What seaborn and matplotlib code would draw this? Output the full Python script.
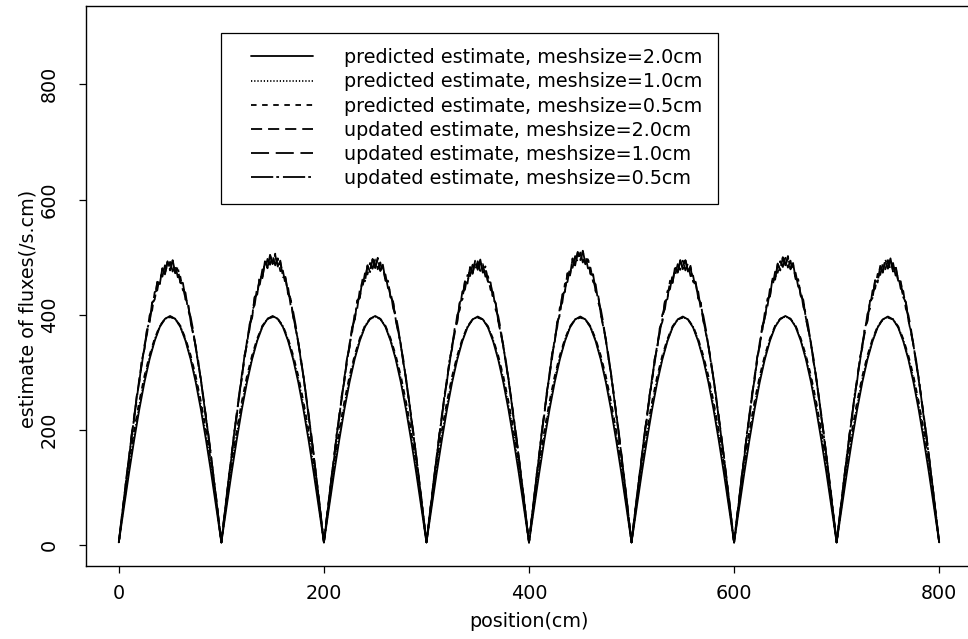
import numpy as np
import pandas as pd
import seaborn as sns
import matplotlib.pyplot as plt
from matplotlib.legend_handler import HandlerLine2D

# arch start positions (cm); each arch is 100 cm wide
arch_starts = [0, 100, 200, 300, 400, 500, 600, 700]

# predicted estimates, read at 5 cm steps across one arch
pred_offsets = [0, 5, 10, 15, 20, 25, 30, 35, 40, 45, 50,
                55, 60, 65, 70, 75, 80, 85, 90, 95, 100]
pred_20 = [5, 66, 126, 183, 236, 283, 323, 355, 379, 393, 398,
           393, 379, 355, 323, 283, 236, 183, 126, 66, 5]
pred_10 = [5, 72, 135, 192, 243, 289, 326, 357, 380, 393, 397,
           393, 380, 357, 326, 289, 243, 192, 135, 72, 5]
pred_05 = [5, 78, 143, 200, 250, 294, 330, 359, 381, 393, 396,
           393, 381, 359, 330, 294, 250, 200, 143, 78, 5]

# updated estimates, read at 2.5 cm steps across one arch (noisy near the top)
upd_offsets = [0, 2.5, 5, 7.5, 10, 12.5, 15, 17.5, 20, 22.5, 25, 27.5, 30, 32.5,
               35, 37.5, 40, 42.5, 45, 47.5, 50, 52.5, 55, 57.5, 60, 62.5, 65,
               67.5, 70, 72.5, 75, 77.5, 80, 82.5, 85, 87.5, 90, 92.5, 95, 97.5, 100]
upd_20 = [5, 44, 80, 120, 153, 193, 223, 261, 287, 324, 345, 378, 390, 425,
          431, 461, 459, 486, 476, 497, 482, 498, 477, 485, 460, 458, 431, 423,
          392, 370, 350, 316, 292, 255, 227, 188, 157, 116, 83, 41, 5]
upd_10 = [5, 42, 83, 116, 157, 189, 228, 255, 293, 317, 351, 370, 403, 412,
          444, 447, 473, 471, 491, 481, 497, 480, 492, 470, 471, 447, 443, 412,
          401, 377, 346, 323, 288, 260, 222, 194, 153, 120, 79, 44, 5]
upd_05 = [5, 45, 79, 121, 152, 194, 222, 262, 286, 325, 344, 379, 392, 426,
          430, 462, 458, 487, 475, 498, 484, 500, 478, 488, 461, 460, 432, 424,
          393, 372, 348, 318, 291, 257, 224, 190, 155, 117, 82, 42, 5]

# peak heights of each arch
pred_peaks = [398, 398, 398, 397, 397, 397, 398, 397]
upd_peaks = [485, 496, 489, 486, 501, 487, 492, 488]

labels = ["predicted estimate, meshsize=2.0cm",
          "predicted estimate, meshsize=1.0cm",
          "predicted estimate, meshsize=0.5cm",
          "updated estimate, meshsize=2.0cm",
          "updated estimate, meshsize=1.0cm",
          "updated estimate, meshsize=0.5cm"]


def build(offsets, profile, peaks, ref):
    xs, ys = [], []
    for s, pk in zip(arch_starts, peaks):
        xs += [s + o for o in offsets]
        ys += [v * pk / ref for v in profile]
    return pd.DataFrame({"position": xs, "flux": ys})


series = [build(pred_offsets, pred_20, pred_peaks, 398),
          build(pred_offsets, pred_10, pred_peaks, 398),
          build(pred_offsets, pred_05, pred_peaks, 398),
          build(upd_offsets, upd_20, upd_peaks, 490),
          build(upd_offsets, upd_10, upd_peaks, 490),
          build(upd_offsets, upd_05, upd_peaks, 490)]

styles = ["-", (0, (0.9, 1.4)), (0, (4, 4)),
          (0, (8, 4.3)), (0, (13, 4.8)), (0, (16, 2.2, 2, 2.8))]


# legend sample lines start a bit in from the box edge (like R's legend)
class ShiftedLine(HandlerLine2D):
    shift = 10.4

    def create_artists(self, legend, orig_handle, xdescent, ydescent,
                       width, height, fontsize, trans):
        arts = super().create_artists(legend, orig_handle, xdescent, ydescent,
                                      width, height, fontsize, trans)
        for a in arts:
            y = np.asarray(a.get_ydata(), dtype=float)[0]
            a.set_data([-xdescent + self.shift, width - xdescent], [y, y])
        return arts


sns.set_style("ticks")
plt.rcParams["font.family"] = ["DejaVu Sans"]
plt.rcParams["lines.scale_dashes"] = False
for k in ["text.color", "axes.labelcolor", "xtick.color", "ytick.color"]:
    plt.rcParams[k] = "black"

fig = plt.figure(figsize=(9.68, 6.39), dpi=100)
ax = fig.add_axes([86 / 968, 1 - 566 / 639, 886 / 968, 560 / 639])

for df, ls, lab in zip(series, styles, labels):
    sns.lineplot(data=df, x="position", y="flux", ax=ax, color="black",
                 lw=1.3, linestyle=ls, label=lab, estimator=None, sort=False,
                 legend=False)

ax.set_xlim(-32, 832)
ax.set_ylim(-36, 936)
ax.set_xticks([0, 200, 400, 600, 800])
ax.set_yticks([0, 200, 400, 600, 800])
ax.tick_params(direction="out", length=4.7, width=0.9, labelsize=13.8)
ax.tick_params(axis="x", pad=8)
ax.tick_params(axis="y", pad=15)
for t in ax.get_yticklabels():
    t.set_rotation(90)
    t.set_va("center")
for sp in ax.spines.values():
    sp.set_color("black")
    sp.set_linewidth(1.0)

ax.set_xlabel("position(cm)", fontsize=13.8)
ax.xaxis.set_label_coords(0.5, -0.082)
ax.set_ylabel("estimate of fluxes(/s.cm)", fontsize=13.8, va="center")
ax.yaxis.set_label_coords(-0.065, 0.46)

handles = ax.get_lines()[:6]
leg = ax.legend(handles, labels, loc="upper left",
                bbox_to_anchor=(0.1524, 0.9524), borderaxespad=0,
                fontsize=13.8, handlelength=4.0, handletextpad=1.62,
                borderpad=0.81, labelspacing=0.27, fancybox=False,
                framealpha=1, edgecolor="black",
                handler_map={ln: ShiftedLine() for ln in handles})
leg.get_frame().set_linewidth(0.9)

fig.savefig("out.png", dpi=100)
